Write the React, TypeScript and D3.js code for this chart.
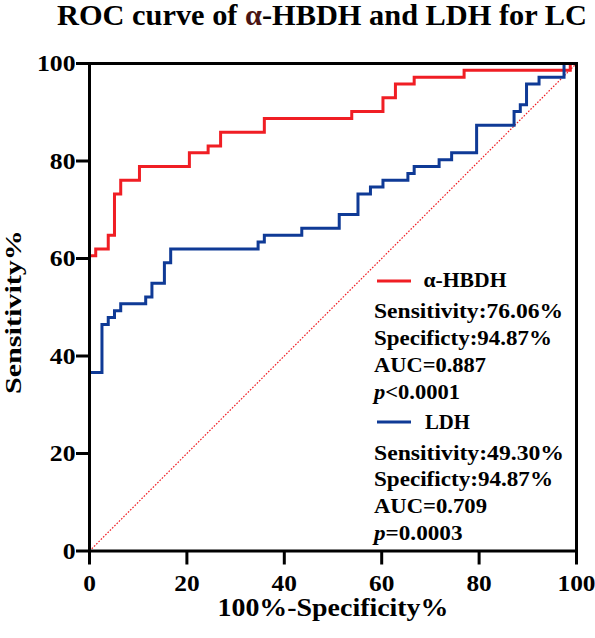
import React from "react";
import * as d3 from "d3";

const titleBefore = "ROC curve of ";
const titleAlpha = "α";
const titleAfter = "-HBDH and LDH for LC";
const xTitle = "100%-Specificity%";
const yTitle = "Sensitivity%";
const tickValues = [0, 20, 40, 60, 80, 100];

const hbdhFpr = [0, 0, 1.28, 3.85, 5.13, 6.41, 10.26, 20.51, 24.36, 26.92, 35.9, 53.85, 60.26, 62.82, 66.67, 76.92, 98.72, 100];
const hbdhTpr = [0, 60.56, 61.97, 64.79, 73.24, 76.06, 78.87, 81.69, 83.1, 85.92, 88.73, 90.14, 92.96, 95.77, 97.18, 98.59, 100, 100];

const ldhFpr = [0, 0, 2.56, 3.85, 5.13, 6.41, 11.54, 12.82, 15.38, 16.67, 34.62, 35.9, 43.59, 51.28, 55.13, 57.69, 60.26, 65.38, 66.67, 71.79, 74.36, 79.49, 87.18, 88.46, 89.74, 92.31, 97.44, 100];
const ldhTpr = [0, 36.62, 46.48, 47.89, 49.3, 50.7, 52.11, 54.93, 59.15, 61.97, 63.38, 64.79, 66.2, 69.01, 73.24, 74.65, 76.06, 77.46, 78.87, 80.28, 81.69, 87.32, 90.14, 91.55, 95.77, 97.18, 100, 100];

const diagX = [0, 100];
const diagY = [0, 100];

const hbdhName = "α-HBDH";
const hbdhStats = ["Sensitivity:76.06%", "Specificty:94.87%", "AUC=0.887"];
const hbdhP = ["p", "<0.0001"];
const ldhName = "LDH";
const ldhStats = ["Sensitivity:49.30%", "Specificty:94.87%", "AUC=0.709"];
const ldhP = ["p", "=0.0003"];

const RED = "#f01e24";
const BLUE = "#0f3a96";
const FONT = "'Liberation Serif', 'Times New Roman', serif";

export default function App() {
  const W = 595, H = 638;
  const x = d3.scaleLinear().domain([0, 100]).range([89.5, 576.5]);
  const y = d3.scaleLinear().domain([0, 100]).range([551, 63.5]);

  const line = d3
    .line<[number, number]>()
    .x((d) => x(d[0]))
    .y((d) => y(d[1]))
    .curve(d3.curveStepAfter);
  const straight = d3
    .line<[number, number]>()
    .x((d) => x(d[0]))
    .y((d) => y(d[1]));

  const hbdh = hbdhFpr.map((v, i) => [v, hbdhTpr[i]] as [number, number]);
  const ldh = ldhFpr.map((v, i) => [v, ldhTpr[i]] as [number, number]);
  const diag = diagX.map((v, i) => [v, diagY[i]] as [number, number]);

  const legendX = 374;
  const statWidths1 = [189, 178, 112];
  const statWidths2 = [190, 179, 113];
  const statBase1 = [317.5, 344.5, 371.5];
  const statBase2 = [459.5, 486, 513];

  const txt = {
    fontFamily: FONT,
    fontWeight: 700 as const,
    fill: "#000",
  };

  return (
    <svg
      width={W}
      height={H}
      viewBox={`0 0 ${W} ${H}`}
      style={{ position: "absolute", left: 0, top: 0, background: "#fff" }}
    >
      <rect x={0} y={0} width={W} height={H} fill="#fff" />
      {/* Title */}
      <text
        x={322}
        y={24.5}
        textAnchor="middle"
        fontSize={29.5}
        textLength={530}
        lengthAdjust="spacingAndGlyphs"
        {...txt}
      >
        {titleBefore}
        <tspan fill="#4a1515">{titleAlpha}</tspan>
        {titleAfter}
      </text>

      {/* diagonal */}
      <path
        d={straight(diag) || ""}
        fill="none"
        stroke={RED}
        strokeWidth={1.2}
        strokeDasharray="1.6,1.6"
      />

      {/* curves */}
      <path d={line(hbdh) || ""} fill="none" stroke={RED} strokeWidth={3} strokeLinejoin="miter" />
      <path d={line(ldh) || ""} fill="none" stroke={BLUE} strokeWidth={3} strokeLinejoin="miter" />

      {/* frame */}
      <line x1={x(0)} x2={x(100)} y1={y(100)} y2={y(100)} stroke="#000" strokeWidth={3} strokeLinecap="square" />
      <line x1={x(100)} x2={x(100)} y1={y(100)} y2={y(0)} stroke="#000" strokeWidth={3} strokeLinecap="square" />
      <line x1={x(0)} x2={x(0)} y1={y(100)} y2={y(0)} stroke="#000" strokeWidth={3} strokeLinecap="square" />
      <line x1={x(0)} x2={x(100)} y1={y(0)} y2={y(0)} stroke="#000" strokeWidth={3} strokeLinecap="square" />

      {/* y ticks */}
      {tickValues.map((t) => (
        <g key={"y" + t}>
          <line x1={x(0) - 13.5} x2={x(0)} y1={y(t)} y2={y(t)} stroke="#000" strokeWidth={3} />
          <text
            transform={`translate(75.5, ${y(t) + 7.8}) scale(1.12, 1)`}
            textAnchor="end"
            fontSize={23}
            {...txt}
          >
            {t}
          </text>
        </g>
      ))}
      {/* x ticks */}
      {tickValues.map((t) => (
        <g key={"x" + t}>
          <line x1={x(t)} x2={x(t)} y1={y(0)} y2={y(0) + 13.5} stroke="#000" strokeWidth={3} />
          <text
            transform={`translate(${x(t)}, 590.5) scale(1.08, 1)`}
            textAnchor="middle"
            fontSize={23.5}
            {...txt}
          >
            {t}
          </text>
        </g>
      ))}

      {/* axis titles */}
      <text
        x={333}
        y={616}
        textAnchor="middle"
        fontSize={25}
        textLength={231}
        lengthAdjust="spacingAndGlyphs"
        {...txt}
      >
        {xTitle}
      </text>
      <text
        transform={`translate(20.7, 312) rotate(-90)`}
        textAnchor="middle"
        fontSize={24}
        textLength={164}
        lengthAdjust="spacingAndGlyphs"
        {...txt}
      >
        {yTitle}
      </text>

      {/* legend: HBDH */}
      <line x1={377} x2={411} y1={281} y2={281} stroke={RED} strokeWidth={3} />
      <text x={423.5} y={287} fontSize={20.5} textLength={83} lengthAdjust="spacingAndGlyphs" {...txt}>
        {hbdhName}
      </text>
      {hbdhStats.map((s, i) => (
        <text
          key={"h" + i}
          x={legendX}
          y={statBase1[i]}
          fontSize={20.5}
          textLength={statWidths1[i]}
          lengthAdjust="spacingAndGlyphs"
          {...txt}
        >
          {s}
        </text>
      ))}
      <text x={legendX} y={398.5} fontSize={20.5} textLength={86} lengthAdjust="spacingAndGlyphs" {...txt}>
        <tspan fontStyle="italic">{hbdhP[0]}</tspan>
        {hbdhP[1]}
      </text>

      {/* legend: LDH */}
      <line x1={377} x2={411} y1={422} y2={422} stroke={BLUE} strokeWidth={3} />
      <text x={425} y={428.5} fontSize={20.5} textLength={45} lengthAdjust="spacingAndGlyphs" {...txt}>
        {ldhName}
      </text>
      {ldhStats.map((s, i) => (
        <text
          key={"l" + i}
          x={legendX}
          y={statBase2[i]}
          fontSize={20.5}
          textLength={statWidths2[i]}
          lengthAdjust="spacingAndGlyphs"
          {...txt}
        >
          {s}
        </text>
      ))}
      <text x={legendX} y={539.5} fontSize={20.5} textLength={88.5} lengthAdjust="spacingAndGlyphs" {...txt}>
        <tspan fontStyle="italic">{ldhP[0]}</tspan>
        {ldhP[1]}
      </text>
    </svg>
  );
}
